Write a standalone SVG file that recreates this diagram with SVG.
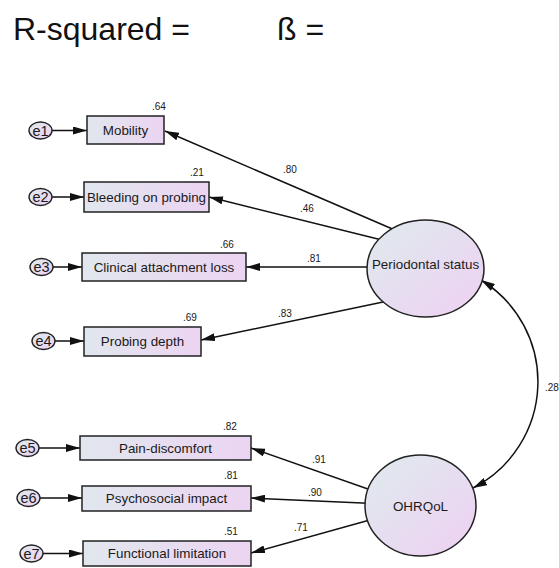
<svg xmlns="http://www.w3.org/2000/svg" width="559" height="568" viewBox="0 0 559 568">
<defs>
<linearGradient id="gbox" x1="0" y1="0" x2="1" y2="0">
<stop offset="0" stop-color="#e1e7ee"/>
<stop offset="1" stop-color="#ecd4f2"/>
</linearGradient>
<linearGradient id="gell" x1="0.15" y1="0.15" x2="0.85" y2="0.85">
<stop offset="0" stop-color="#e1e7ee"/>
<stop offset="1" stop-color="#ecd4f2"/>
</linearGradient>
<marker id="ah" viewBox="0 0 14 8" refX="14" refY="4" markerWidth="14" markerHeight="8" markerUnits="userSpaceOnUse" orient="auto-start-reverse">
<path d="M0,0 L14,4 L0,8 z" fill="#111"/>
</marker>
<style>
.box{fill:url(#gbox);stroke:#222;stroke-width:1.5}
.ell{fill:url(#gell);stroke:#222;stroke-width:1.5}
.err{fill:url(#gell);stroke:#222;stroke-width:1.4}
.t{font-family:"Liberation Sans",Arial,sans-serif;font-size:13.4px;fill:#1a1a1a;text-anchor:middle}
.et{font-family:"Liberation Sans",Arial,sans-serif;font-size:14.5px;fill:#1a1a1a;text-anchor:middle}
.s{font-family:"Liberation Sans",Arial,sans-serif;font-size:10px;fill:#1a1a1a}
.ttl{font-family:"Liberation Sans",Arial,sans-serif;font-size:32px;fill:#111}
.c{fill:none;stroke:#111;stroke-width:1.5;marker-end:url(#ah)}
</style>
</defs>
<rect width="559" height="568" fill="#fff"/>
<text class="ttl" x="13" y="40">R-squared =</text>
<text class="ttl" x="277" y="40">ß =</text>

<g id="connectors">
<line class="c" x1="52" y1="130.5" x2="87" y2="130.5"/>
<line class="c" x1="52" y1="197" x2="84" y2="197"/>
<line class="c" x1="53" y1="267" x2="82" y2="267"/>
<line class="c" x1="55" y1="341" x2="84" y2="341"/>
<line class="c" x1="39" y1="448" x2="80" y2="448"/>
<line class="c" x1="40" y1="498" x2="82" y2="498"/>
<line class="c" x1="43" y1="553.5" x2="83" y2="553.5"/>
<line class="c" x1="400" y1="232.3" x2="165" y2="131"/>
<line class="c" x1="390" y1="242" x2="209" y2="197"/>
<line class="c" x1="390" y1="267" x2="246" y2="267"/>
<line class="c" x1="395" y1="299.5" x2="201" y2="340"/>
<line class="c" x1="385" y1="495" x2="251" y2="448"/>
<line class="c" x1="385" y1="504" x2="251" y2="498"/>
<line class="c" x1="385" y1="515.7" x2="251" y2="553"/>
<path class="c" style="marker-start:url(#ah)" d="M481,280 A119.4,119.4 0 0 1 473,488"/>
<text class="s" x="283" y="173">.80</text>
<text class="s" x="300" y="212">.46</text>
<text class="s" x="307" y="262">.81</text>
<text class="s" x="278" y="317">.83</text>
<text class="s" x="312" y="463">.91</text>
<text class="s" x="308" y="496">.90</text>
<text class="s" x="294" y="531">.71</text>
<text class="s" x="545" y="391">.28</text>
</g>

<g id="e1"><ellipse class="err" cx="40.5" cy="130.5" rx="11.5" ry="8.5"/><text class="et" x="40.5" y="135.7">e1</text></g>
<g id="e2"><ellipse class="err" cx="40.5" cy="197" rx="11.5" ry="8.5"/><text class="et" x="40.5" y="202.2">e2</text></g>
<g id="e3"><ellipse class="err" cx="41.5" cy="267" rx="11.5" ry="8.5"/><text class="et" x="41.5" y="272.2">e3</text></g>
<g id="e4"><ellipse class="err" cx="43.5" cy="341" rx="11.5" ry="8.5"/><text class="et" x="43.5" y="346.2">e4</text></g>
<g id="e5"><ellipse class="err" cx="27.5" cy="448" rx="11.5" ry="8.5"/><text class="et" x="27.5" y="453.2">e5</text></g>
<g id="e6"><ellipse class="err" cx="28.5" cy="498" rx="11.5" ry="8.5"/><text class="et" x="28.5" y="503.2">e6</text></g>
<g id="e7"><ellipse class="err" cx="31.5" cy="553.5" rx="11.5" ry="8.5"/><text class="et" x="31.5" y="558.7">e7</text></g>

<g id="mobility"><rect class="box" x="87" y="116" width="77" height="28"/><text class="t" x="125.5" y="134.8">Mobility</text><text class="s" x="152" y="110">.64</text></g>
<g id="bleeding"><rect class="box" x="84" y="182" width="125" height="30"/><text class="t" x="146.5" y="201.8">Bleeding on probing</text><text class="s" x="190" y="176">.21</text></g>
<g id="cal"><rect class="box" x="82" y="253" width="164" height="28"/><text class="t" x="164" y="271.8">Clinical attachment loss</text><text class="s" x="220" y="248">.66</text></g>
<g id="probing"><rect class="box" x="84" y="327" width="117" height="29"/><text class="t" x="142.5" y="346.3">Probing depth</text><text class="s" x="183" y="321">.69</text></g>
<g id="pain"><rect class="box" x="80" y="436" width="171" height="24"/><text class="t" x="165.5" y="452.8">Pain-discomfort</text><text class="s" x="223" y="430">.82</text></g>
<g id="psycho"><rect class="box" x="82" y="486" width="169" height="25"/><text class="t" x="166.5" y="503.3">Psychosocial impact</text><text class="s" x="224" y="479">.81</text></g>
<g id="functional"><rect class="box" x="83" y="541" width="168" height="25"/><text class="t" x="167" y="558.3">Functional limitation</text><text class="s" x="224" y="535">.51</text></g>

<g id="periodontal"><ellipse class="ell" cx="425.5" cy="268.5" rx="58.5" ry="48.5"/><text class="t" x="425.5" y="268.5">Periodontal status</text></g>
<g id="ohrqol"><ellipse class="ell" cx="420.5" cy="505.5" rx="55.5" ry="50.5"/><text class="t" x="420.5" y="510.5">OHRQoL</text></g>
</svg>
